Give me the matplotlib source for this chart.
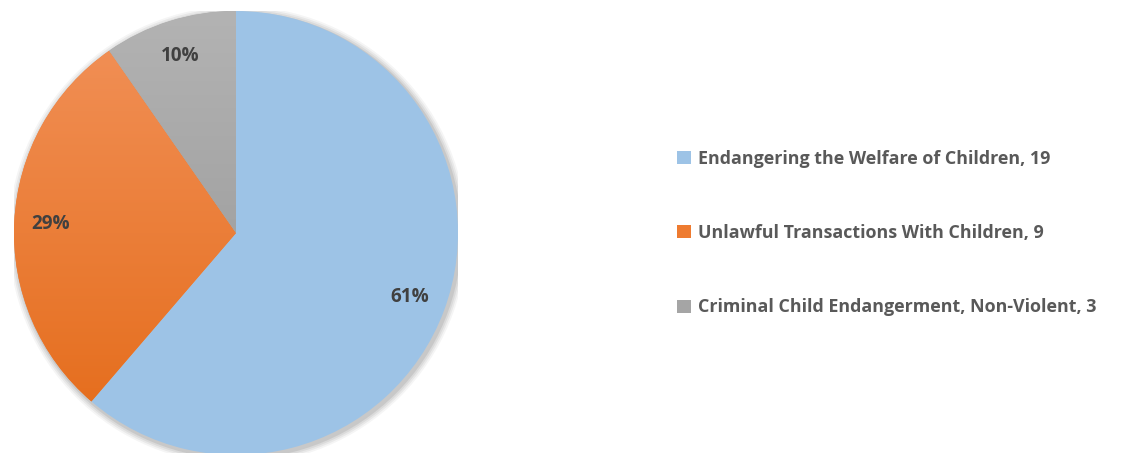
import numpy as np
import matplotlib

matplotlib.use("Agg")
import matplotlib.pyplot as plt
from matplotlib.colors import LinearSegmentedColormap
from matplotlib.patches import Circle

plt.rcParams["font.family"] = ["Open Sans", "DejaVu Sans"]

categories = [
    "Endangering the Welfare of Children",
    "Unlawful Transactions With Children",
    "Criminal Child Endangerment, Non-Violent",
]
counts = [19, 9, 3]
base_colors = ["#9DC3E6", "#EE7B30", "#A5A5A5"]
# top -> bottom gradient colours for each slice (None = flat)
gradients = [None, ("#F2925A", "#E46A17"), ("#B3B3B3", "#939393")]

W, H = 1147, 453
fig = plt.figure(figsize=(W / 100, H / 100), dpi=100)

# pie occupies a square: centre (236, 233) px, radius 222 px
cx, cy, r = 236, 233, 222
ax = fig.add_axes([(cx - r) / W, (H - cy - r) / H, 2 * r / W, 2 * r / H])
ax.set_xlim(-1, 1)
ax.set_ylim(-1, 1)
ax.set_aspect("equal")
ax.axis("off")

# soft shadow, mostly towards lower right
for i, a in enumerate([0.04, 0.05, 0.06, 0.08]):
    ax.add_patch(Circle((0.008, -0.01), 1.0 + 0.008 * (4 - i), color="black",
                        alpha=a, lw=0, zorder=0))

wedges, texts, autotexts = ax.pie(
    counts, colors=base_colors, startangle=90, counterclock=False,
    radius=1.0, autopct="%.0f%%", pctdistance=0.835,
    wedgeprops=dict(linewidth=0),
    textprops=dict(fontsize=13.6, fontweight="bold", color="#404040"),
)
for t in autotexts:
    t.set_zorder(5)

# vertical gradient fill clipped to each wedge
for w, g in zip(wedges, gradients):
    if g is None:
        continue
    cmap = LinearSegmentedColormap.from_list("g", [g[1], g[0]])
    grad = np.linspace(0, 1, 256).reshape(-1, 1)
    im = ax.imshow(grad, cmap=cmap, extent=(-1, 1, -1, 1), origin="lower",
                   aspect="auto", zorder=2)
    im.set_clip_path(w)
ax.set_xlim(-1, 1)
ax.set_ylim(-1, 1)

leg = fig.legend(
    wedges, [f"{c}, {n}" for c, n in zip(categories, counts)],
    loc="center left", bbox_to_anchor=(661 / W, 1 - 233 / H),
    frameon=False, handlelength=0.75, handleheight=0.75, handletextpad=0.4,
    labelspacing=3.15, prop=dict(size=12.9, weight="bold"),
)
for t in leg.get_texts():
    t.set_color("#595959")

fig.savefig("out.png", dpi=100)
